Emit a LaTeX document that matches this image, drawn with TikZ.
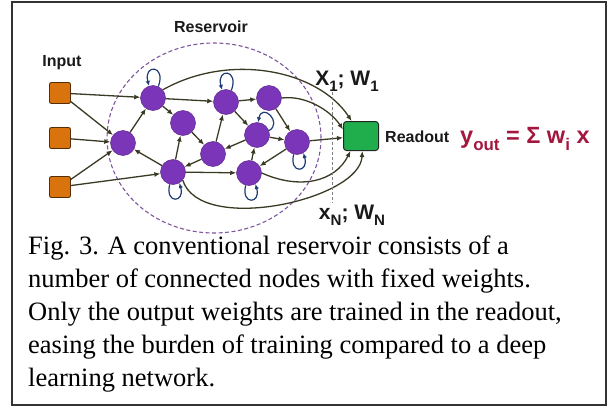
\documentclass[tikz,border=0pt]{standalone}
\usepackage{fontspec}
\setmainfont{Liberation Serif}
\setsansfont{Liberation Sans}
\usetikzlibrary{arrows.meta}

\definecolor{inorange}{HTML}{D9730D}
\definecolor{resvpurple}{HTML}{7B35B8}
\definecolor{readgreen}{HTML}{1FAE4B}
\definecolor{edgecol}{HTML}{3A3A24}
\definecolor{loopblue}{HTML}{1F3C74}
\definecolor{formred}{HTML}{A3173F}

\newcommand{\lowsub}[1]{\raisebox{-0.3em}{\scalebox{0.72}{#1}}}

\begin{document}
\begin{tikzpicture}[
    x=1pt, y=-1pt,
    inputnode/.style={rectangle, rounded corners=2pt, fill=inorange, draw=inorange!40!black, line width=0.9pt, minimum size=21pt, inner sep=0pt},
    resnode/.style={circle, fill=resvpurple, draw=resvpurple!75!black, line width=0.5pt, minimum size=25pt, inner sep=0pt},
    readnode/.style={rectangle, rounded corners=3pt, fill=readgreen, draw=black!85, line width=1pt, minimum width=35pt, minimum height=29pt, inner sep=0pt},
    conn/.style={-{Latex[length=6pt,width=5pt]}, line width=1.3pt, edgecol},
    selfloop/.style={-{Latex[length=5pt,width=4.5pt]}, line width=1.2pt, loopblue},
    resborder/.style={dashed, dash pattern=on 4pt off 2.5pt, line width=1.1pt, resvpurple!55!gray},
    tapline/.style={dash pattern=on 3pt off 2pt, line width=0.8pt, black!50},
    lbl/.style={font=\sffamily\bfseries\fontsize{16}{18}\selectfont, text=black!90},
    taplabel/.style={font=\sffamily\bfseries\fontsize{21}{24}\selectfont, text=black!90},
    formula/.style={font=\sffamily\bfseries\fontsize{23.5}{26}\selectfont, text=formred},
]
    \useasboundingbox (0,0) rectangle (611,407);
    \draw[line width=1.8pt, black!80] (12,2) rectangle (606,405);

    % --- reservoir border ---
    \draw[resborder] (214,138) ellipse [x radius=107pt, y radius=95pt];

    % --- inputs, reservoir nodes, readout ---
    \node[inputnode] (in1) at (60,93) {};
    \node[inputnode] (in2) at (60,138) {};
    \node[inputnode] (in3) at (60,187) {};
    \foreach \name/\px/\py in {rA/153/98, rB/123/143, rC/183/123, rD/226/102, rE/269/98,
                               rF/213/154, rG/257/135, rH/297/142, rI/173/172, rJ/249/173} {
        \node[resnode] (\name) at (\px,\py) {};
    }
    \node[readnode] (ro) at (361,136) {};

    % --- fixed connections ---
    \foreach \a/\b in {in1/rA, in1/rB, in2/rB, in3/rB, in3/rI, rB/rA, rA/rC, rA/rD,
                       rI/rC, rI/rB, rC/rF, rF/rD, rF/rI, rD/rE, rD/rG, rE/rH,
                       rG/rF, rG/rH, rJ/rG, rH/rJ, rI/rJ, rH/ro} {
        \draw[conn] (\a) -- (\b);
    }

    % --- self loops ---
    \foreach \n in {rA, rD} {
        \draw[selfloop] (\n.65) .. controls +(8,-22) and +(-6,-22) .. (\n.108);
    }
    \draw[selfloop] (rG.20) .. controls +(14,-8) and +(4,-20) .. (rG.85);
    \foreach \n in {rH, rI, rJ} {
        \draw[selfloop] (\n.255) .. controls +(-5,20) and +(6,20) .. (\n.300);
    }

    % --- outputs to the readout ---
    \draw[conn] (rA.40) .. controls (230,52) and (318,70) .. (ro.122);
    \draw[conn] (rE.east) .. controls (305,95) and (330,110) .. (ro.160);
    \draw[conn] (rJ.east) .. controls (300,190) and (335,182) .. (ro.235);
    \draw[conn] (rI.-40) .. controls (200,235) and (360,200) .. (ro.275);

    \coordinate (tapTop) at (332,87);
    \coordinate (tapBot) at (332,203);
    \draw[tapline] (tapTop) -- (tapBot);

    % --- labels ---
    \node[lbl] (reslabel) at (211,27) {Reservoir};
    \node[lbl] (inlabel) at (62,63) {Input};
    \node[lbl, anchor=west, inner sep=0pt] (rolabel) at (385,137) {Readout};
    \node[taplabel] (x1lab) at (347,81) {X\lowsub{1}; W\lowsub{1}};
    \node[taplabel] (xnlab) at (352,215) {x\lowsub{N}; W\lowsub{N}};
    \node[formula, anchor=west, inner sep=0pt] (yout) at (460,139) {y\lowsub{out} = Σ w\lowsub{i} x};

    % --- caption ---
    \node[font=\rmfamily\fontsize{26.5}{33}\selectfont, align=left, anchor=north west, inner sep=0pt] (caption) at (28,236)
        {Fig. 3. A conventional reservoir consists of a\\
         number of connected nodes with fixed weights.\\
         Only the output weights are trained in the readout,\\
         easing the burden of training compared to a deep\\
         learning network.};
\end{tikzpicture}
\end{document}
